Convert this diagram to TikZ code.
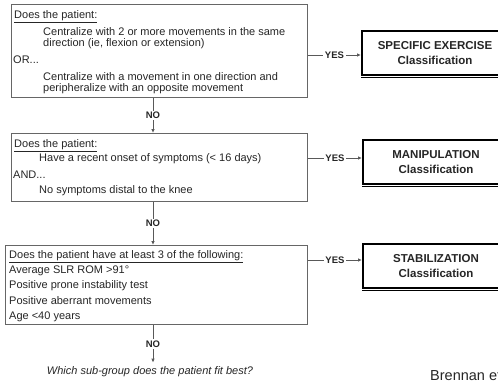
\documentclass[tikz,border=0pt]{standalone}
\usepackage{fontspec}
\setmainfont{Liberation Sans}
\usetikzlibrary{arrows.meta}

\tikzset{
  qbox/.style={draw=black!60, line width=1pt, rectangle, inner sep=0pt, anchor=north west},
  cbox/.style={draw=black, line width=2pt, rectangle, inner sep=0pt, anchor=north west,
    minimum width=146pt, minimum height=44pt, align=center,
    font=\fontsize{11.5}{15}\selectfont\bfseries, text=black!85},
  qtxt/.style={anchor=base west, inner sep=0pt, font=\fontsize{11}{13}\selectfont, text=black!85},
  lbl/.style={fill=white, inner sep=1.5pt, font=\fontsize{9.5}{11}\selectfont\bfseries, text=black!85},
  link/.style={draw=black!65, line width=0.8pt, -{Latex[length=4pt,width=3.5pt]}},
}

\begin{document}
\begin{tikzpicture}[x=1pt, y=-1pt]
\useasboundingbox (0,0) rectangle (498,383);
\clip (0,0) rectangle (498,383);
\fill[white] (0,0) rectangle (498,383);

% question boxes
\node[qbox, minimum width=296pt, minimum height=93pt] (b1) at (11,4) {};
\node[qbox, minimum width=296pt, minimum height=68pt] (b2) at (11,133) {};
\node[qbox, minimum width=302pt, minimum height=79pt] (b3) at (5,245) {};

% first box text
\node[qtxt] (t1a) at (14,18.5) {\underline{Does the patient:}};
\node[qtxt] (t1b) at (43,35.5) {Centralize with 2 or more movements in the same};
\node[qtxt] (t1c) at (43,46.5) {direction (ie, flexion or extension)};
\node[qtxt] (t1d) at (13,63.5) {OR...};
\node[qtxt] (t1e) at (43,80.5) {Centralize with a movement in one direction and};
\node[qtxt] (t1f) at (43,91.5) {peripheralize with an opposite movement};

% second box text
\node[qtxt] (t2a) at (14,147.5) {\underline{Does the patient:}};
\node[qtxt] (t2b) at (39,161.5) {Have a recent onset of symptoms (< 16 days)};
\node[qtxt] (t2c) at (13,178.5) {AND...};
\node[qtxt] (t2d) at (39,193.5) {No symptoms distal to the knee};

% third box text
\node[qtxt] (t3a) at (9,258.5) {\underline{Does the patient have at least 3 of the following:}};
\node[qtxt] (t3b) at (9,273.5) {Average SLR ROM >91°};
\node[qtxt] (t3c) at (9,288.5) {Positive prone instability test};
\node[qtxt] (t3d) at (9,304) {Positive aberrant movements};
\node[qtxt] (t3e) at (9,319.5) {Age <40 years};

% classification boxes (running off the right edge)
\node[cbox] (ca) at (361,30) {SPECIFIC EXERCISE\\Classification};
\node[cbox] (cb) at (362,139) {MANIPULATION\\Classification};
\node[cbox] (cc) at (362,243) {STABILIZATION\\Classification};
\foreach \c in {ca,cb,cc}{
  \draw[line width=1.6pt] ([yshift=-1.4pt]\c.south west) -- ([yshift=-1.4pt]\c.south east);
}

% levels of the YES links and column of the NO links
\coordinate (ya) at (0,55);
\coordinate (yb) at (0,158);
\coordinate (yc) at (0,260);
\coordinate (nx) at (153,0);

\draw[link] (b1.east |- ya) -- node[lbl] (ysa) {YES} (ca.west |- ya);
\draw[link] (b2.east |- yb) -- node[lbl] (ysb) {YES} (cb.west |- yb);
\draw[link] (b3.east |- yc) -- node[lbl] (ysc) {YES} (cc.west |- yc);

\draw[link] (b1.south -| nx) -- node[lbl] (noa) {NO} (b2.north -| nx);
\draw[link] (b2.south -| nx) -- node[lbl] (nob) {NO} (b3.north -| nx);

% closing question
\node[inner sep=0pt, font=\fontsize{11}{13}\selectfont\itshape, text=black!85] (q) at (150,372) {Which sub-group does the patient fit best?};
\draw[link] (b3.south -| nx) -- node[lbl, pos=0.5] (noc) {NO} ([yshift=4pt]q.north -| nx);

% source note, running off the right edge
\node[anchor=base west, inner sep=0pt, font=\fontsize{14.5}{16}\selectfont, text=black!85] (src) at (430,380) {Brennan et al};
\end{tikzpicture}
\end{document}
